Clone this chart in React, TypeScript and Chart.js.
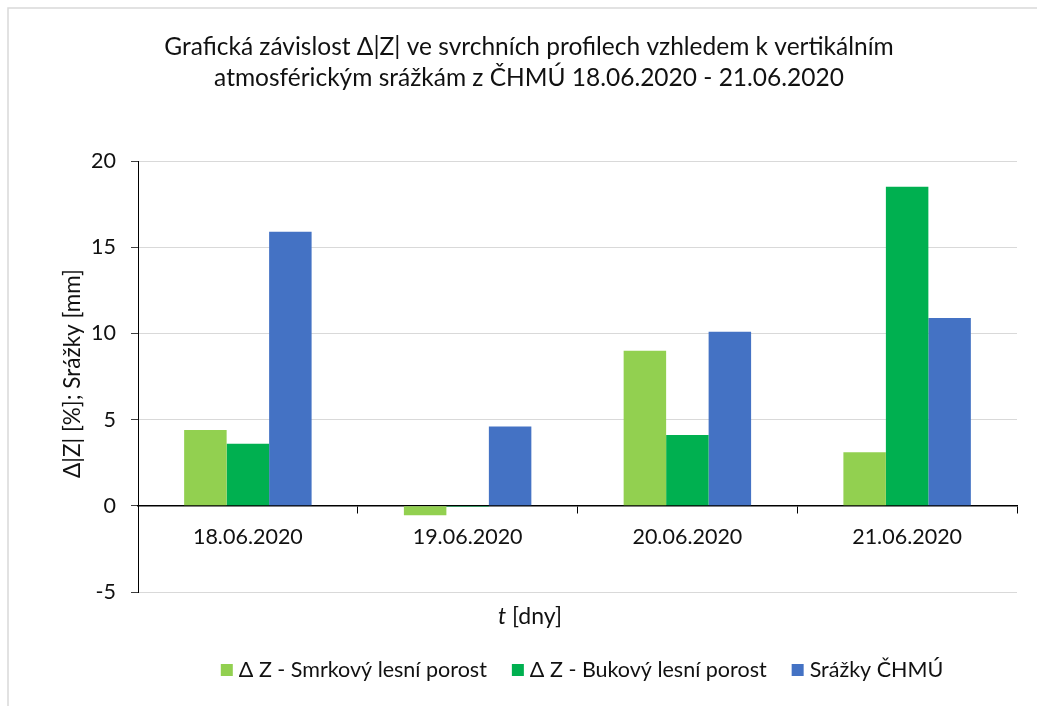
import React, { useEffect, useRef } from "react";
import { Chart, registerables } from "chart.js";

Chart.register(...registerables);

const categories = ["18.06.2020", "19.06.2020", "20.06.2020", "21.06.2020"];
const seriesNames = ["Δ Z - Smrkový lesní porost", "Δ Z - Bukový lesní porost", "Srážky ČHMÚ"];
const smrkValues = [4.4, -0.55, 9.0, 3.1];
const bukValues = [3.6, -0.05, 4.1, 18.5];
const srazkyValues = [15.9, 4.6, 10.1, 10.9];
const seriesColors = ["#92D050", "#00B050", "#4472C4"];
const titleLines = [
  "Grafická závislost Δ|Z| ve svrchních profilech vzhledem k vertikálním",
  "atmosférickým srážkám z ČHMÚ 18.06.2020 - 21.06.2020",
];
const yAxisTitle = "Δ|Z| [%]; Srážky [mm]";
const xAxisTitleItalic = "t";
const xAxisTitleRest = " [dny]";

const FONT = "Lato";
const TEXT = "#111111";

const decorPlugin = {
  id: "decor",
  afterDraw(chart: any) {
    const ctx = chart.ctx as CanvasRenderingContext2D;
    const area = chart.chartArea;
    const W = chart.width;
    ctx.save();
    // outer border (left/top)
    ctx.strokeStyle = "#d9d9d9";
    ctx.lineWidth = 1.5;
    ctx.beginPath();
    ctx.moveTo(8, chart.height);
    ctx.lineTo(8, 8);
    ctx.lineTo(W, 8);
    ctx.stroke();

    ctx.fillStyle = TEXT;
    ctx.textBaseline = "middle";
    ctx.textAlign = "center";
    // title
    ctx.font = `24.5px ${FONT}`;
    ctx.fillText(titleLines[0], 529, 47);
    ctx.fillText(titleLines[1], 529, 78);

    // y axis title
    ctx.save();
    ctx.translate(73, (area.top + area.bottom) / 2 - 3);
    ctx.rotate(-Math.PI / 2);
    ctx.font = `22.5px ${FONT}`;
    ctx.fillText(yAxisTitle, 0, 0);
    ctx.restore();

    // x axis title
    const xf = 23;
    ctx.font = `italic ${xf}px ${FONT}`;
    const wi = ctx.measureText(xAxisTitleItalic).width;
    ctx.font = `${xf}px ${FONT}`;
    const wr = ctx.measureText(xAxisTitleRest).width;
    const xt = 530 - (wi + wr) / 2;
    ctx.textAlign = "left";
    ctx.font = `italic ${xf}px ${FONT}`;
    ctx.fillText(xAxisTitleItalic, xt, 617);
    ctx.font = `${xf}px ${FONT}`;
    ctx.fillText(xAxisTitleRest, xt + wi, 617);

    // legend
    ctx.font = `21.5px ${FONT}`;
    const box = 12;
    const gapBox = 6;
    const gapItem = 25;
    const widths = seriesNames.map((n) => ctx.measureText(n).width);
    const total = widths.reduce((a, w) => a + box + gapBox + w, 0) + gapItem * (seriesNames.length - 1);
    let x = 582 - total / 2;
    const ly = 670;
    seriesNames.forEach((n, i) => {
      ctx.fillStyle = seriesColors[i];
      ctx.fillRect(x, ly - box / 2, box, box);
      x += box + gapBox;
      ctx.fillStyle = TEXT;
      ctx.fillText(n, x, ly);
      x += widths[i] + gapItem;
    });
    ctx.restore();
  },
};

export default function App() {
  const ref = useRef<HTMLCanvasElement>(null);
  useEffect(() => {
    if (!ref.current) return;
    const chart = new Chart(ref.current, {
      type: "bar",
      data: {
        labels: categories,
        datasets: [
          { label: seriesNames[0], data: smrkValues, backgroundColor: seriesColors[0] },
          { label: seriesNames[1], data: bukValues, backgroundColor: seriesColors[1] },
          { label: seriesNames[2], data: srazkyValues, backgroundColor: seriesColors[2] },
        ],
      },
      options: {
        responsive: false,
        animation: false,
        layout: { padding: { top: 161, bottom: 114, left: 8, right: 20 } },
        plugins: {
          legend: { display: false },
          title: { display: false },
          tooltip: { enabled: false },
        },
        datasets: { bar: { categoryPercentage: 0.58, barPercentage: 1.0 } },
        scales: {
          x: {
            position: { y: 0 } as any,
            grid: {
              offset: true,
              drawOnChartArea: false,
              drawTicks: true,
              tickLength: 7,
              tickColor: "#000",
            },
            border: { color: "#000", width: 1.5 },
            ticks: { color: TEXT, font: { family: FONT, size: 21.5 }, padding: 11, maxRotation: 0 },
          },
          y: {
            min: -5,
            max: 20,
            afterFit(scale: any) {
              scale.width = 130;
            },
            ticks: { stepSize: 5, color: TEXT, font: { family: FONT, size: 21.5 }, padding: 15 },
            grid: { color: "#d9d9d9", tickLength: 7, tickColor: "#404040", lineWidth: 1 },
            border: { color: "#000", width: 1 },
          },
        },
      },
      plugins: [decorPlugin],
    });
    return () => chart.destroy();
  }, []);
  return (
    <div style={{ position: "absolute", left: 0, top: 0, width: 1037, height: 706, background: "#fff" }}>
      <canvas ref={ref} width={1037} height={706} style={{ width: 1037, height: 706, display: "block" }} />
    </div>
  );
}
